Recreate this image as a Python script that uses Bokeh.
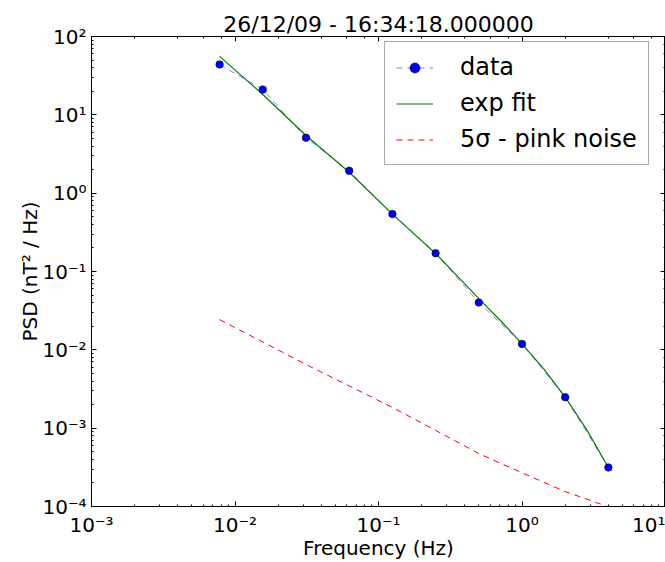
import numpy as np
from bokeh.plotting import figure
from bokeh.models import (LogAxis, CustomJSTickFormatter, Legend, LegendItem,
                          ColumnDataSource, LogTicker)
from bokeh.embed import file_html
from bokeh.resources import INLINE

# ---- data ----
freq = [0.0078125, 0.015625, 0.03125, 0.0625, 0.125, 0.25, 0.5, 1.0, 2.0, 4.0]
psd = [44.0, 21.0, 5.1, 1.93, 0.542, 0.171, 0.0402, 0.0119, 0.00249, 0.000315]

fit_freq = [0.0078125, 0.015625, 0.03125, 0.0625, 0.125, 0.25, 0.5, 0.707,
            1.0, 1.414, 2.0, 2.83, 4.0]
fit_psd = [55.7, 18.2, 5.45, 1.85, 0.54, 0.17, 0.045, 0.0237,
           0.0119, 0.00575, 0.00249, 0.00095, 0.000315]

noise_freq = [0.0078125, 0.015625, 0.03125, 0.0625, 0.125, 0.25, 0.5, 1.0, 2.0, 4.0]
noise_psd = [0.0243, 0.0126, 0.0065, 0.00346, 0.00184, 0.000938, 0.000474,
             0.000269, 0.000155, 0.0000991]

title_text = "26/12/09 - 16:34:18.000000"
x_label = "Frequency (Hz)"
y_label = "PSD (nT² / Hz)"
labels = ["data", "exp fit", "5σ - pink noise"]

FONT = "DejaVu Sans"

p = figure(width=665, height=562, x_axis_type="log", y_axis_type="log",
           x_range=(1e-3, 10), y_range=(1e-4, 100),
           output_backend="svg", toolbar_location=None,
           min_border_left=91, min_border_right=0, min_border_top=36,
           min_border_bottom=54)

p.grid.visible = False
p.outline_line_color = "black"
p.outline_line_width = 1
p.background_fill_color = "white"
p.border_fill_color = "white"

p.title.text = title_text
p.title.align = "center"
p.title.text_font = FONT
p.title.text_font_size = "22px"
p.title.text_font_style = "normal"
p.title.text_color = "black"
p.title.standoff = 0

sup_code = """
const e = Math.round(Math.log10(tick));
const sup = {'-':'\u207b','0':'\u2070','1':'\u00b9','2':'\u00b2','3':'\u00b3','4':'\u2074','5':'\u2075','6':'\u2076','7':'\u2077','8':'\u2078','9':'\u2079'};
return '10' + String(e).split('').map(c => sup[c]).join('');
"""

def style_axis(ax, show_labels=True):
    ax.major_tick_in = 5
    ax.major_tick_out = 0
    ax.minor_tick_in = 2
    ax.minor_tick_out = 0
    ax.axis_line_color = "black"
    ax.major_tick_line_color = "black"
    ax.minor_tick_line_color = "black"
    ax.major_label_text_font = FONT
    ax.major_label_text_color = "black"
    ax.axis_label_text_font = FONT
    ax.axis_label_text_font_style = "normal"
    ax.axis_label_text_color = "black"
    if show_labels:
        ax.formatter = CustomJSTickFormatter(code=sup_code)
        ax.major_label_text_font_size = "20px"
        ax.axis_label_text_font_size = "20px"
    else:
        ax.formatter = CustomJSTickFormatter(code="return '';")
        ax.major_label_text_font_size = "0px"
        ax.major_label_standoff = 0

style_axis(p.xaxis[0])
style_axis(p.yaxis[0])
p.xaxis[0].axis_label = x_label
p.yaxis[0].axis_label = y_label
p.xaxis[0].major_label_standoff = 6
p.xaxis[0].axis_label_standoff = -4
p.yaxis[0].major_label_standoff = 5
p.yaxis[0].axis_label_standoff = -3

top_ax = LogAxis(ticker=LogTicker())
style_axis(top_ax, show_labels=False)
right_ax = LogAxis(ticker=LogTicker())
style_axis(right_ax, show_labels=False)
p.add_layout(top_ax, "above")
p.add_layout(right_ax, "right")

src = ColumnDataSource(dict(f=freq, v=psd))
fit_src = ColumnDataSource(dict(f=fit_freq, v=fit_psd))
noise_src = ColumnDataSource(dict(f=noise_freq, v=noise_psd))

r_noise = p.line("f", "v", source=noise_src, line_color="#ff0000", line_width=1,
                 line_dash="6 5")
r_data_line = p.line("f", "v", source=src, line_color="#0000ff", line_alpha=0.5,
                     line_width=1, line_dash="6 5")
r_fit = p.line("f", "v", source=fit_src, line_color="#008000", line_width=1.2)
r_data_pts = p.scatter("f", "v", source=src, marker="circle", size=7.5,
                       fill_color="#0000ff", line_color="black", line_width=0.6)

legend = Legend(items=[
    LegendItem(label=labels[0], renderers=[r_data_line, r_data_pts]),
    LegendItem(label=labels[1], renderers=[r_fit]),
    LegendItem(label=labels[2], renderers=[r_noise]),
], location=(293, 341))
legend.label_text_font = FONT
legend.label_text_font_size = "24px"
legend.label_text_color = "black"
legend.label_text_baseline = "middle"
legend.glyph_width = 37
legend.glyph_height = 25
legend.label_height = 25
legend.label_standoff = 27
legend.spacing = 8
legend.padding = 11
legend.margin = 0
legend.border_line_color = "#555555"
legend.border_line_width = 1
legend.background_fill_color = "white"
legend.background_fill_alpha = 1
p.add_layout(legend)

open("out.html", "w").write(file_html(p, INLINE))
